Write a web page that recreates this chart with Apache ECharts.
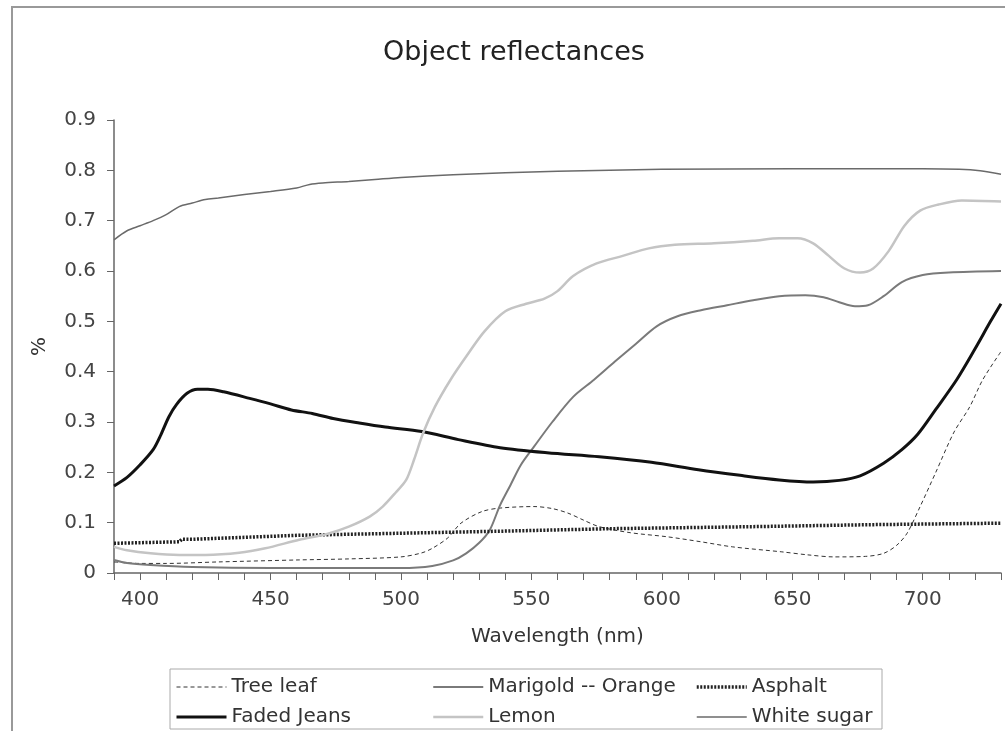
<!DOCTYPE html>
<html>
<head>
<meta charset="utf-8">
<title>Object reflectances</title>
<script src="https://cdn.jsdelivr.net/npm/echarts@6/dist/echarts.min.js"></script>
<style>
  html, body { margin: 0; padding: 0; background: #fff; }
  #main { width: 1005px; height: 731px; }
</style>
</head>
<body>
<div id="main"></div>
<script>
// reflectance curves, [wavelength nm, fraction]
var treeLeaf = [[390,0.022],[400,0.019],[410,0.019],[430,0.022],[461,0.026],[480,0.028],[500,0.032],[508,0.04],[512,0.049],[518,0.07],[523,0.099],[531,0.122],[538,0.129],[551,0.132],[558,0.128],[564,0.119],[570,0.105],[576,0.092],[588,0.08],[602,0.072],[615,0.062],[627,0.052],[646,0.042],[656,0.036],[666,0.032],[678,0.033],[685,0.039],[690,0.055],[694,0.079],[699,0.132],[705,0.2],[712,0.28],[718,0.33],[723,0.384],[730,0.44]];
var marigold = [[390,0.026],[395,0.02],[404,0.016],[420,0.012],[450,0.01],[480,0.01],[500,0.01],[512,0.014],[520,0.025],[525,0.039],[530,0.06],[534,0.085],[538,0.135],[542,0.175],[546,0.215],[551,0.251],[558,0.3],[566,0.35],[574,0.384],[582,0.42],[590,0.455],[598,0.49],[606,0.51],[615,0.522],[625,0.532],[635,0.542],[645,0.55],[655,0.552],[662,0.548],[668,0.538],[674,0.53],[679,0.532],[685,0.55],[692,0.578],[700,0.592],[710,0.597],[730,0.6]];
var asphalt = [[390,0.059],[415,0.062],[416,0.067],[420,0.067],[461,0.075],[500,0.079],[538,0.083],[580,0.088],[634,0.092],[680,0.096],[730,0.099]];
var fadedJeans = [[390,0.173],[395,0.19],[400,0.215],[405,0.245],[408,0.275],[411,0.31],[414,0.335],[418,0.357],[422,0.365],[426,0.365],[432,0.36],[442,0.347],[450,0.336],[458,0.324],[466,0.317],[474,0.307],[484,0.298],[494,0.29],[508,0.281],[522,0.265],[538,0.249],[556,0.239],[576,0.231],[596,0.22],[614,0.205],[630,0.194],[645,0.185],[658,0.181],[668,0.184],[676,0.193],[685,0.218],[692,0.245],[698,0.275],[705,0.325],[713,0.384],[720,0.445],[726,0.5],[730,0.535]];
var lemon = [[390,0.052],[395,0.045],[404,0.039],[415,0.036],[425,0.036],[438,0.04],[448,0.049],[461,0.066],[472,0.078],[480,0.092],[488,0.112],[493,0.132],[498,0.16],[502,0.185],[505,0.225],[508.5,0.278],[513,0.33],[519,0.384],[525,0.43],[532,0.48],[540,0.52],[548,0.535],[555,0.545],[560,0.56],[566,0.59],[575,0.615],[585,0.63],[595,0.645],[605,0.652],[620,0.655],[635,0.66],[645,0.665],[652,0.665],[658,0.655],[664,0.63],[670,0.605],[676,0.597],[681,0.605],[687,0.64],[693,0.69],[699,0.72],[706,0.732],[715,0.74],[730,0.738]];
var whiteSugar = [[390,0.662],[395,0.68],[400,0.69],[405,0.7],[410,0.712],[415,0.728],[420,0.735],[425,0.742],[430,0.745],[440,0.752],[450,0.758],[460,0.765],[465,0.772],[470,0.775],[480,0.778],[490,0.782],[500,0.786],[520,0.791],[540,0.795],[560,0.798],[600,0.802],[650,0.803],[700,0.803],[714,0.802],[722,0.799],[730,0.792]];

var col1 = ['Tree leaf', 'Faded Jeans'];
var col2 = ['Marigold -- Orange', 'Lemon'];
var col3 = ['Asphalt', 'White sugar'];

var FONT = '"DejaVu Sans", Verdana, sans-serif';

var chart = echarts.init(document.getElementById('main'), null, { renderer: 'canvas' });

function mkLegend(names, left) {
  return {
    data: names,
    orient: 'vertical',
    left: left,
    top: 677,
    itemWidth: 50,
    itemHeight: 14,
    itemGap: 10,
    padding: 0,
    itemStyle: { opacity: 0 },
    lineStyle: { width: 'inherit' },
    textStyle: { fontFamily: FONT, fontSize: 20, color: '#333' }
  };
}

function line(name, data, color, width, type, smooth) {
  return {
    name: name,
    type: 'line',
    data: data,
    symbol: 'none',
    smooth: smooth,
    lineStyle: { color: color, width: width, type: type },
    itemStyle: { color: color }
  };
}

var option = {
  animation: false,
  backgroundColor: '#fff',
  title: {
    text: 'Object reflectances',
    left: 378,
    top: 34,
    textStyle: { fontFamily: FONT, fontSize: 27, fontWeight: 'normal', color: '#222' }
  },
  legend: [mkLegend(col1, 175), mkLegend(col2, 432), mkLegend(col3, 695)],
  grid: { left: 114, right: 4, top: 120, bottom: 158 },
  xAxis: {
    type: 'value',
    min: 390,
    max: 730,
    interval: 10,
    name: 'Wavelength (nm)',
    nameLocation: 'middle',
    nameGap: 54,
    nameTextStyle: { fontFamily: FONT, fontSize: 20, color: '#333' },
    axisLine: { lineStyle: { color: '#666', width: 1.5 } },
    axisTick: { length: 7, lineStyle: { color: '#666' } },
    splitLine: { show: false },
    axisLabel: {
      margin: 17,
      fontFamily: FONT, fontSize: 20, color: '#444',
      formatter: function (v) { return v % 50 === 0 ? String(v) : ''; }
    }
  },
  yAxis: {
    type: 'value',
    min: 0,
    max: 0.9,
    interval: 0.1,
    name: '%',
    nameLocation: 'middle',
    nameGap: 64,
    nameRotate: 90,
    nameTextStyle: { fontFamily: FONT, fontSize: 20, color: '#333' },
    axisLine: { show: true, lineStyle: { color: '#666', width: 1.5 } },
    axisTick: { show: true, length: 7, lineStyle: { color: '#666' } },
    splitLine: { show: false },
    axisLabel: { margin: 18, fontFamily: FONT, fontSize: 20, color: '#444' }
  },
  graphic: [
    { type: 'rect', shape: { x: 12, y: 7, width: 1100, height: 800 }, style: { fill: null, stroke: '#999', lineWidth: 2 }, silent: true },
    { type: 'rect', shape: { x: 170, y: 669, width: 712, height: 60 }, style: { fill: null, stroke: '#aaa', lineWidth: 1 }, silent: true }
  ],
  series: [
    line('Tree leaf', treeLeaf, '#333', 1, [4, 3], 0.3),
    line('Marigold -- Orange', marigold, '#7a7a7a', 2, 'solid', 0.3),
    line('Asphalt', asphalt, '#222', 3.5, [2, 1.5], false),
    line('Faded Jeans', fadedJeans, '#111', 3, 'solid', 0.3),
    line('Lemon', lemon, '#c4c4c4', 2.5, 'solid', 0.3),
    line('White sugar', whiteSugar, '#6a6a6a', 1.5, 'solid', 0.3)
  ]
};

chart.setOption(option);
window.addEventListener('resize', chart.resize);
</script>
</body>
</html>
